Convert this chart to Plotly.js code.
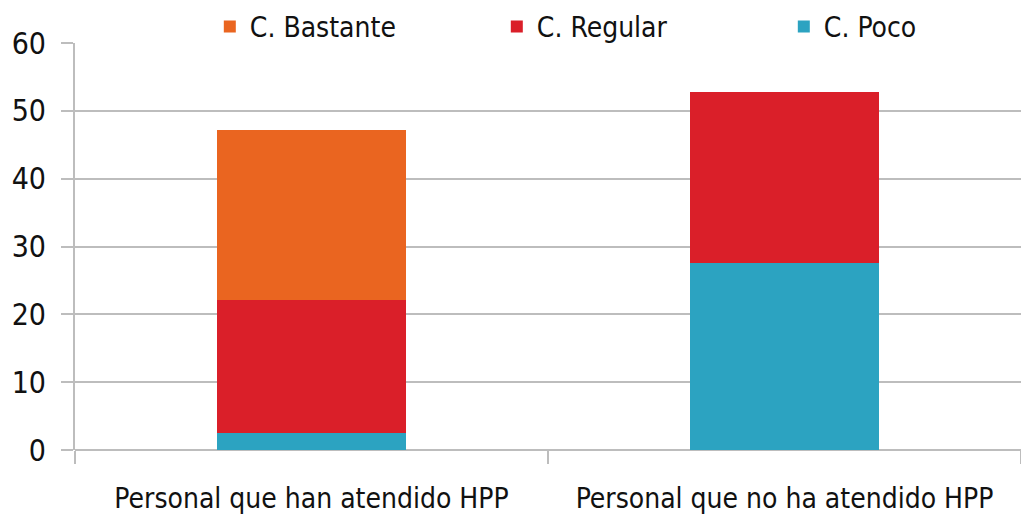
<!DOCTYPE html>
<html>
<head>
<meta charset="utf-8">
<script src="https://cdn.plot.ly/plotly-3.0.1.min.js"></script>
<style>
html,body{margin:0;padding:0;background:#fff;}
#chart{width:1021px;height:518px;}
#chart text{font-stretch:condensed !important;}
</style>
</head>
<body>
<div id="chart"></div>
<script>
const categories = ["Personal que han atendido HPP", "Personal que no ha atendido HPP"];
const seriesNames = ["C. Poco", "C. Regular", "C. Bastante"];
const poco = [2.5, 27.6];
const regular = [19.6, 25.2];
const bastante = [25.1, 0];
const yTicks = [0, 10, 20, 30, 40, 50, 60];

const colors = ["#2CA3C1", "#DA1F29", "#EA6520"];
const values = [poco, regular, bastante];
const FONT = '"DejaVu Sans Condensed", "DejaVu Sans", sans-serif';
const FS = 28;

const traces = values.map((v, i) => ({
  type: "bar",
  name: seriesNames[i],
  x: categories,
  y: v,
  marker: {color: colors[i], line: {width: 0}},
  hoverinfo: "x+y+name"
}));

const layout = {
  width: 1021,
  height: 518,
  barmode: "stack",
  bargap: 0.6,
  margin: {l: 75, r: 0, t: 43, b: 68, autoexpand: false},
  paper_bgcolor: "#fff",
  plot_bgcolor: "#fff",
  font: {family: FONT, size: FS, color: "#111"},
  showlegend: true,
  legend: {
    orientation: "h",
    traceorder: "reversed",
    x: 0.1425, xanchor: "left",
    y: 1.04, yanchor: "middle",
    entrywidth: 242,
    font: {family: FONT, size: FS, color: "#111"},
    bgcolor: "rgba(0,0,0,0)"
  },
  xaxis: {
    type: "category",
    automargin: false,
    tickangle: 0,
    showgrid: false,
    showline: false,
    zeroline: false,
    ticks: "outside",
    tickson: "boundaries",
    ticklen: 13,
    tickwidth: 2,
    tickcolor: "#bdbdbd",
    tickfont: {family: FONT, size: FS, color: "#111"},
    ticklabelstandoff: 29
  },
  yaxis: {
    automargin: false,
    range: [0, 60],
    tickvals: yTicks,
    ticktext: yTicks.map(String),
    showgrid: true,
    gridcolor: "#bdbdbd",
    gridwidth: 2,
    zeroline: true,
    zerolinecolor: "#bdbdbd",
    zerolinewidth: 2,
    showline: true,
    linecolor: "#bdbdbd",
    linewidth: 2,
    ticks: "outside",
    ticklen: 12,
    tickwidth: 2,
    tickcolor: "#bdbdbd",
    tickfont: {family: FONT, size: 30, color: "#111"},
    ticklabelstandoff: 9
  }
};

Plotly.newPlot("chart", traces, layout, {displayModeBar: false, staticPlot: true});
</script>
</body>
</html>
